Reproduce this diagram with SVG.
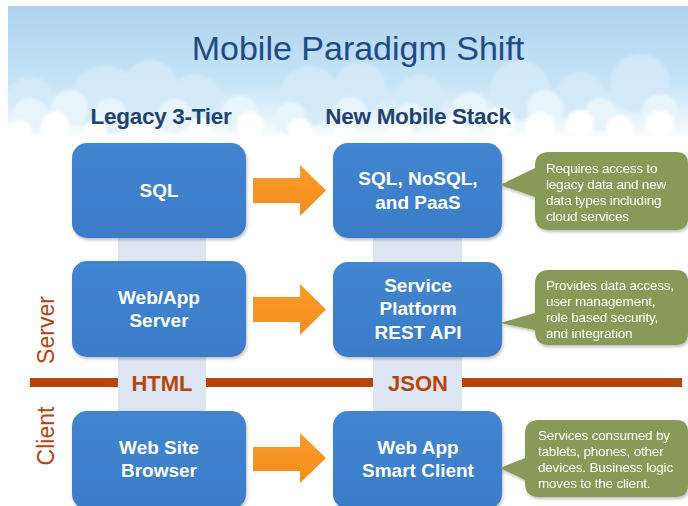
<svg xmlns="http://www.w3.org/2000/svg" width="688" height="506" viewBox="0 0 688 506">
  <defs>
    <style>
      .title { font-family: "Liberation Sans", Arial, sans-serif; font-size: 34px; fill: #1f4a85; }
      .colhead { font-family: "Liberation Sans", Arial, sans-serif; font-size: 22.5px; font-weight: bold; fill: #1f4275; letter-spacing: -0.3px; }
      .box { fill: url(#boxGrad); }
      .boxtext { font-family: "Liberation Sans", Arial, sans-serif; font-size: 19px; font-weight: bold; fill: #ffffff; text-anchor: middle; }
      .strip { fill: #dce5f1; }
      .tier { font-family: "Liberation Sans", Arial, sans-serif; font-size: 23px; fill: #b5450d; text-anchor: middle; }
      .proto { font-family: "Liberation Sans", Arial, sans-serif; font-size: 22px; font-weight: bold; fill: #b5450d; text-anchor: middle; }
      .callout { fill: #879a58; }
      .note { font-family: "Liberation Sans", Arial, sans-serif; font-size: 13.5px; fill: #ffffff; letter-spacing: -0.2px; }
      .arrow { fill: url(#arrowGrad); }
    </style>
    <linearGradient id="sky" x1="0" y1="0" x2="0" y2="1">
      <stop offset="0" stop-color="#afd3ee"/>
      <stop offset="0.55" stop-color="#c4e3f7"/>
      <stop offset="0.8" stop-color="#e2f1fb"/>
      <stop offset="1" stop-color="#ffffff"/>
    </linearGradient>
    <linearGradient id="boxGrad" x1="0" y1="0" x2="0" y2="1">
      <stop offset="0" stop-color="#4285d1"/>
      <stop offset="1" stop-color="#3b7cc9"/>
    </linearGradient>
    <linearGradient id="arrowGrad" x1="0" y1="0" x2="0" y2="1">
      <stop offset="0" stop-color="#f99a2a"/>
      <stop offset="1" stop-color="#f38e1c"/>
    </linearGradient>
    <filter id="soft" x="-20%" y="-20%" width="140%" height="140%">
      <feGaussianBlur stdDeviation="1.5"/>
    </filter>
    <filter id="shadow" x="-10%" y="-10%" width="125%" height="125%">
      <feDropShadow dx="1" dy="2" stdDeviation="1.5" flood-color="#000000" flood-opacity="0.25"/>
    </filter>
  </defs>

  <rect width="688" height="506" fill="#ffffff"/>

  <!-- sky banner with cloud band -->
  <g id="banner">
    <rect x="8" y="6" width="680" height="134" fill="url(#sky)"/>
    <g fill="#d3eaf9" opacity="0.85" filter="url(#soft)">
      <circle cx="105" cy="100" r="34"/>
      <circle cx="150" cy="88" r="28"/>
      <circle cx="195" cy="100" r="26"/>
      <circle cx="310" cy="96" r="30"/>
      <circle cx="360" cy="88" r="26"/>
      <circle cx="420" cy="98" r="24"/>
      <circle cx="520" cy="90" r="30"/>
      <circle cx="580" cy="98" r="26"/>
      <circle cx="640" cy="84" r="30"/>
      <circle cx="30" cy="98" r="22"/>
    </g>
    <g fill="#e8f4fc" filter="url(#soft)">
      <circle cx="30" cy="116" r="18"/>
      <circle cx="70" cy="108" r="18"/>
      <circle cx="110" cy="114" r="16"/>
      <circle cx="175" cy="116" r="17"/>
      <circle cx="240" cy="114" r="18"/>
      <circle cx="290" cy="118" r="16"/>
      <circle cx="350" cy="114" r="17"/>
      <circle cx="410" cy="118" r="15"/>
      <circle cx="470" cy="110" r="18"/>
      <circle cx="545" cy="108" r="18"/>
      <circle cx="600" cy="114" r="16"/>
      <circle cx="660" cy="112" r="18"/>
    </g>
    <g fill="#ffffff" filter="url(#soft)">
      <circle cx="20" cy="132" r="12"/>
      <circle cx="55" cy="126" r="14"/>
      <circle cx="95" cy="132" r="12"/>
      <circle cx="140" cy="128" r="13"/>
      <circle cx="200" cy="130" r="12"/>
      <circle cx="250" cy="126" r="14"/>
      <circle cx="300" cy="130" r="12"/>
      <circle cx="345" cy="132" r="11"/>
      <circle cx="400" cy="130" r="12"/>
      <circle cx="455" cy="128" r="12"/>
      <circle cx="500" cy="122" r="15"/>
      <circle cx="540" cy="126" r="14"/>
      <circle cx="580" cy="124" r="14"/>
      <circle cx="620" cy="128" r="13"/>
      <circle cx="660" cy="124" r="14"/>
    </g>
  </g>

  <text class="title" x="358" y="60" text-anchor="middle">Mobile Paradigm Shift</text>
  <text class="colhead" x="161" y="124" text-anchor="middle">Legacy 3-Tier</text>
  <text class="colhead" x="418" y="124" text-anchor="middle">New Mobile Stack</text>

  <!-- vertical links between stacked tiers -->
  <g id="connectors">
    <rect class="strip" x="118" y="236" width="88" height="178"/>
    <rect class="strip" x="373" y="236" width="89" height="178"/>
    <!-- server / client divider -->
    <rect x="30" y="378" width="88" height="9" fill="#b5450d"/>
    <rect x="206" y="378" width="167" height="9" fill="#b5450d"/>
    <rect x="462" y="378" width="220" height="9" fill="#b5450d"/>
    <!-- migration arrows -->
    <polygon class="arrow" points="253,178 300,178 300,165 326,190.5 300,216 300,203 253,203"/>
    <polygon class="arrow" points="253,297 300,297 300,284 326,309.5 300,335 300,322 253,322"/>
    <polygon class="arrow" points="253,447 300,447 300,433 326,458 300,483 300,471 253,471"/>
  </g>

  <text class="proto" x="162" y="391">HTML</text>
  <text class="proto" x="418" y="391">JSON</text>

  <text class="tier" transform="translate(54,330) rotate(-90)">Server</text>
  <text class="tier" transform="translate(54,436) rotate(-90)">Client</text>

  <!-- legacy stack -->
  <g id="legacy-sql">
    <rect class="box" x="72" y="143" width="174" height="95" rx="15" filter="url(#shadow)"/>
    <text class="boxtext" x="159" y="197">SQL</text>
  </g>
  <g id="legacy-server">
    <rect class="box" x="72" y="261" width="174" height="96" rx="15" filter="url(#shadow)"/>
    <text class="boxtext" x="159" y="304">Web/App</text>
    <text class="boxtext" x="159" y="327">Server</text>
  </g>
  <g id="legacy-client">
    <rect class="box" x="72" y="411" width="174" height="98" rx="15" filter="url(#shadow)"/>
    <text class="boxtext" x="159" y="454">Web Site</text>
    <text class="boxtext" x="159" y="477">Browser</text>
  </g>

  <!-- mobile stack -->
  <g id="mobile-data">
    <rect class="box" x="333" y="143" width="169" height="95" rx="15" filter="url(#shadow)"/>
    <text class="boxtext" x="418" y="185">SQL, NoSQL,</text>
    <text class="boxtext" x="418" y="209">and PaaS</text>
  </g>
  <g id="mobile-service">
    <rect class="box" x="333" y="262" width="169" height="95" rx="15" filter="url(#shadow)"/>
    <text class="boxtext" x="418" y="292">Service</text>
    <text class="boxtext" x="418" y="315">Platform</text>
    <text class="boxtext" x="418" y="339">REST API</text>
  </g>
  <g id="mobile-client">
    <rect class="box" x="333" y="411" width="169" height="98" rx="15" filter="url(#shadow)"/>
    <text class="boxtext" x="418" y="454">Web App</text>
    <text class="boxtext" x="418" y="477">Smart Client</text>
  </g>

  <!-- notes -->
  <g id="note-data" filter="url(#shadow)">
    <path class="callout" d="M549,152 H676 Q688,152 688,164 V218 Q688,230 676,230 H549 Q535,230 535,216 V197 L500,185 L535,168 V166 Q535,152 549,152 Z"/>
    <text class="note" x="546" y="173">Requires access to</text>
    <text class="note" x="546" y="189">legacy data and new</text>
    <text class="note" x="546" y="205">data types including</text>
    <text class="note" x="546" y="221">cloud services</text>
  </g>
  <g id="note-service" filter="url(#shadow)">
    <path class="callout" d="M549,270 H676 Q688,270 688,282 V333 Q688,345 676,345 H549 Q535,345 535,331 V330 L500,323 L535,313 V284 Q535,270 549,270 Z"/>
    <text class="note" x="546" y="290">Provides data access,</text>
    <text class="note" x="546" y="306">user management,</text>
    <text class="note" x="546" y="322">role based security,</text>
    <text class="note" x="546" y="338">and integration</text>
  </g>
  <g id="note-client" filter="url(#shadow)">
    <path class="callout" d="M539,420 H676 Q688,420 688,432 V485 Q688,497 676,497 H539 Q525,497 525,483 V480 L500,468 L525,458 V434 Q525,420 539,420 Z"/>
    <text class="note" x="538" y="440">Services consumed by</text>
    <text class="note" x="538" y="456">tablets, phones, other</text>
    <text class="note" x="538" y="472">devices. Business logic</text>
    <text class="note" x="538" y="488">moves to the client.</text>
  </g>
</svg>
